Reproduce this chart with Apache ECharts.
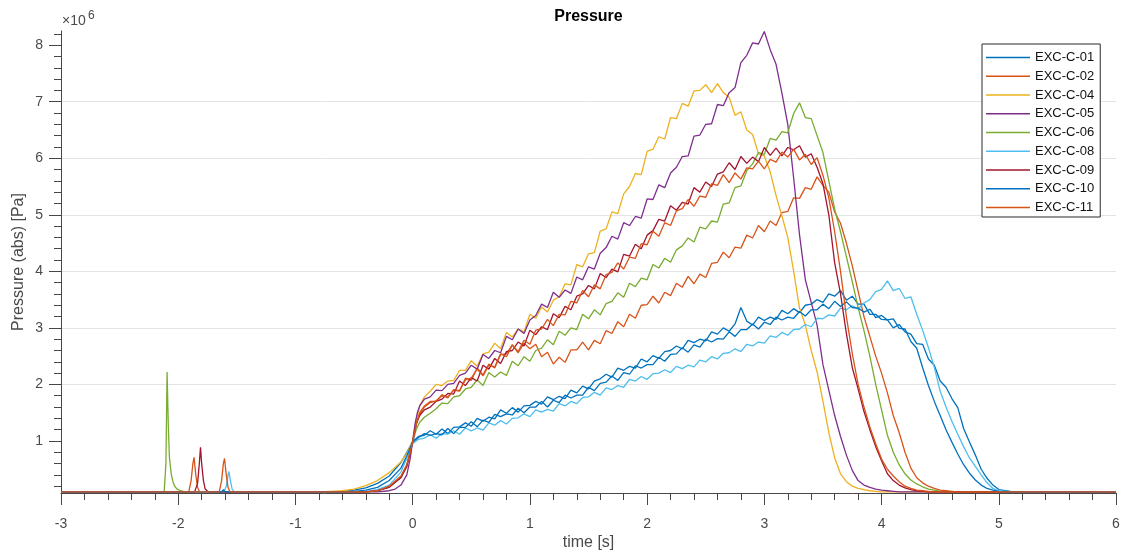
<!DOCTYPE html>
<html>
<head>
<meta charset="utf-8">
<script src="https://cdn.jsdelivr.net/npm/echarts@6/dist/echarts.min.js"></script>
<style>
  html, body { margin: 0; padding: 0; background: #ffffff; }
  #chart { width: 1124px; height: 555px; }
</style>
</head>
<body>
<div id="chart"></div>
<script>
// Pressure traces, values in units of 1e6 Pa (axis shows "x10^6")
const seriesNames = ['EXC-C-01', 'EXC-C-02', 'EXC-C-04', 'EXC-C-05', 'EXC-C-06',
                     'EXC-C-08', 'EXC-C-09', 'EXC-C-10', 'EXC-C-11'];

const xTicks = [-3, -2, -1, 0, 1, 2, 3, 4, 5, 6];
const yMajorTicks = [1, 2, 3, 4, 5, 6, 7, 8];
const yMinorTicks = [0.2, 0.4, 0.6, 0.8, 1.2, 1.4, 1.6, 1.8, 2.2, 2.4, 2.6, 2.8,
                     3.2, 3.4, 3.6, 3.8, 4.2, 4.4, 4.6, 4.8, 5.2, 5.4, 5.6, 5.8,
                     6.2, 6.4, 6.6, 6.8, 7.2, 7.4, 7.6, 7.8, 8.2];

// shared sample times [s] for the main pressure phase
const tGrid = [
  0.10, 0.15, 0.20, 0.25, 0.30, 0.35, 0.40, 0.45, 0.50, 0.55,
  0.60, 0.65, 0.70, 0.75, 0.80, 0.85, 0.90, 0.95, 1.00, 1.05,
  1.10, 1.15, 1.20, 1.25, 1.30, 1.35, 1.40, 1.45, 1.50, 1.55,
  1.60, 1.65, 1.70, 1.75, 1.80, 1.85, 1.90, 1.95, 2.00, 2.05,
  2.10, 2.15, 2.20, 2.25, 2.30, 2.35, 2.40, 2.45, 2.50, 2.55,
  2.60, 2.65, 2.70, 2.75, 2.80, 2.85, 2.90, 2.95, 3.00, 3.05,
  3.10, 3.15, 3.20, 3.25, 3.30, 3.35, 3.40, 3.45, 3.50, 3.55,
  3.60, 3.65, 3.70, 3.75, 3.80, 3.85, 3.90, 3.95, 4.00, 4.05,
  4.10, 4.15, 4.20, 4.25, 4.30, 4.35, 4.40, 4.45, 4.50, 4.55,
  4.60, 4.65, 4.70, 4.75, 4.80, 4.85, 4.90, 4.95, 5.00
];

// ---- EXC-C-01 ----
const p01Lead = [[-3, 0.10], [-0.7, 0.10], [-0.6, 0.11], [-0.5, 0.13], [-0.4, 0.17], [-0.3, 0.25],
                 [-0.2, 0.38], [-0.1, 0.62], [-0.05, 0.80], [0, 0.99], [0.05, 1.08]];
const p01Main = [
  1.10, 1.18, 1.12, 1.21, 1.13, 1.24, 1.25, 1.32, 1.26, 1.40,
  1.35, 1.42, 1.39, 1.55, 1.49, 1.59, 1.51, 1.62, 1.63, 1.70,
  1.65, 1.78, 1.73, 1.79, 1.75, 1.90, 1.85, 1.97, 1.92, 2.06,
  2.10, 2.18, 2.13, 2.29, 2.25, 2.32, 2.29, 2.45, 2.40, 2.51,
  2.46, 2.58, 2.60, 2.68, 2.63, 2.78, 2.74, 2.80, 2.77, 2.93,
  2.89, 3.00, 2.94, 3.07, 3.36, 3.12, 3.05, 3.19, 3.13, 3.19,
  3.15, 3.31, 3.25, 3.34, 3.27, 3.40, 3.42, 3.50, 3.45, 3.60,
  3.56, 3.66, 3.49, 3.56, 3.42, 3.42, 3.24, 3.24, 3.15, 3.14,
  3.00, 3.06, 2.93, 2.89, 2.72, 2.71, 2.45, 2.34, 2.06, 1.95,
  1.75, 1.59, 1.22, 0.98, 0.75, 0.50, 0.34, 0.22, 0.14
];
const p01Tail = [[5.1, 0.11], [5.2, 0.10], [6, 0.10]];

// ---- EXC-C-02 ----
const p02Lead = [[-3, 0.10], [-1.91, 0.10], [-1.89, 0.30], [-1.875, 0.60], [-1.865, 0.71], [-1.85, 0.40],
                 [-1.835, 0.18], [-1.82, 0.11], [-1.80, 0.10], [-0.4, 0.10], [-0.3, 0.12], [-0.2, 0.19],
                 [-0.1, 0.36], [-0.05, 0.56], [0, 0.99], [0.03, 1.28], [0.06, 1.48]];
const p02Main = [
  1.60, 1.68, 1.71, 1.80, 1.78, 1.90, 1.88, 2.11, 2.07, 2.29,
  2.17, 2.36, 2.29, 2.53, 2.54, 2.70, 2.56, 2.73, 2.63, 2.71,
  2.49, 2.57, 2.36, 2.48, 2.39, 2.61, 2.61, 2.75, 2.61, 2.78,
  2.72, 2.95, 2.90, 3.11, 3.02, 3.24, 3.17, 3.40, 3.41, 3.56,
  3.44, 3.63, 3.57, 3.79, 3.72, 3.91, 3.78, 3.95, 3.89, 4.14,
  4.16, 4.34, 4.24, 4.43, 4.41, 4.64, 4.59, 4.81, 4.70, 4.89,
  4.81, 5.04, 5.06, 5.30, 5.29, 5.48, 5.45, 5.67, 5.52, 5.40,
  5.05, 4.85, 4.50, 4.10, 3.65, 3.20, 2.85, 2.50, 2.20, 1.85,
  1.45, 1.15, 0.80, 0.52, 0.35, 0.26, 0.20, 0.16, 0.13, 0.12,
  0.11, 0.10, 0.10, 0.10, 0.10, 0.10, 0.10, 0.10, 0.10
];
const p02Tail = [[6, 0.10]];

// ---- EXC-C-04 ----
const p04Lead = [[-3, 0.10], [-0.8, 0.10], [-0.7, 0.11], [-0.6, 0.12], [-0.5, 0.15], [-0.4, 0.21],
                 [-0.3, 0.30], [-0.2, 0.44], [-0.1, 0.63], [-0.05, 0.78], [0, 1.00], [0.03, 1.35], [0.06, 1.62]];
const p04Main = [
  1.78, 1.88, 2.00, 1.98, 2.06, 2.07, 2.25, 2.25, 2.42, 2.32,
  2.54, 2.57, 2.73, 2.63, 2.92, 2.84, 2.98, 2.93, 3.24, 3.17,
  3.37, 3.28, 3.49, 3.55, 3.78, 3.76, 4.12, 4.08, 4.31, 4.33,
  4.71, 4.75, 5.05, 5.02, 5.37, 5.50, 5.73, 5.71, 6.12, 6.16,
  6.38, 6.34, 6.72, 6.70, 6.97, 6.92, 7.19, 7.20, 7.30, 7.16,
  7.32, 7.16, 7.08, 6.76, 6.82, 6.50, 6.42, 6.08, 6.04, 5.76,
  5.34, 4.98, 4.60, 4.00, 3.35, 3.05, 2.60, 2.22, 1.70, 1.15,
  0.70, 0.42, 0.28, 0.20, 0.16, 0.14, 0.12, 0.11, 0.10, 0.10,
  0.10, 0.10, 0.10, 0.10, 0.10, 0.10, 0.10, 0.10, 0.10, 0.10,
  0.10, 0.10, 0.10, 0.10, 0.10, 0.10, 0.10, 0.10, 0.10
];
const p04Tail = [[6, 0.10]];

// ---- EXC-C-05 ----
const p05Lead = [[-3, 0.10], [-0.3, 0.10], [-0.2, 0.12], [-0.15, 0.15], [-0.1, 0.22], [-0.05, 0.40],
                 [-0.02, 0.70], [0, 1.00], [0.02, 1.30], [0.04, 1.50], [0.06, 1.62]];
const p05Main = [
  1.74, 1.78, 1.90, 1.89, 2.00, 2.02, 2.16, 2.20, 2.34, 2.27,
  2.53, 2.46, 2.60, 2.56, 2.85, 2.79, 2.98, 2.90, 3.14, 3.22,
  3.42, 3.36, 3.63, 3.54, 3.67, 3.61, 3.90, 3.85, 4.08, 4.04,
  4.32, 4.42, 4.62, 4.57, 4.86, 4.81, 4.97, 4.94, 5.28, 5.27,
  5.53, 5.48, 5.74, 5.84, 6.03, 6.04, 6.39, 6.41, 6.60, 6.61,
  6.95, 6.93, 7.16, 7.25, 7.69, 7.82, 8.04, 8.02, 8.24, 7.92,
  7.66, 7.15, 6.60, 5.65, 4.65, 3.85, 3.45, 3.05, 2.35, 1.90,
  1.45, 1.08, 0.75, 0.48, 0.30, 0.22, 0.18, 0.15, 0.13, 0.12,
  0.11, 0.10, 0.10, 0.10, 0.10, 0.10, 0.10, 0.10, 0.10, 0.10,
  0.10, 0.10, 0.10, 0.10, 0.10, 0.10, 0.10, 0.10, 0.10
];
const p05Tail = [[6, 0.10]];

// ---- EXC-C-06 ----
const p06Lead = [[-3, 0.10], [-2.12, 0.10], [-2.105, 0.60], [-2.095, 2.22], [-2.085, 1.30], [-2.075, 0.70],
                 [-2.06, 0.42], [-2.045, 0.28], [-2.03, 0.20], [-2.01, 0.15], [-1.98, 0.12], [-1.94, 0.10],
                 [-0.4, 0.10], [-0.3, 0.12], [-0.2, 0.19], [-0.1, 0.36], [-0.05, 0.58], [0, 0.98],
                 [0.03, 1.20], [0.06, 1.33]];
const p06Main = [
  1.42, 1.49, 1.57, 1.67, 1.66, 1.78, 1.80, 1.92, 1.95, 2.08,
  1.98, 2.21, 2.13, 2.22, 2.16, 2.41, 2.33, 2.49, 2.41, 2.60,
  2.64, 2.79, 2.70, 2.94, 2.87, 3.00, 2.97, 3.24, 3.16, 3.32,
  3.23, 3.43, 3.47, 3.62, 3.54, 3.79, 3.73, 3.88, 3.85, 4.12,
  4.06, 4.23, 4.16, 4.38, 4.45, 4.59, 4.52, 4.78, 4.75, 4.89,
  4.87, 5.19, 5.21, 5.48, 5.51, 5.78, 5.90, 6.10, 6.07, 6.35,
  6.32, 6.47, 6.45, 6.79, 6.98, 6.72, 6.70, 6.40, 6.10, 5.60,
  5.10, 4.70, 4.26, 3.82, 3.36, 2.95, 2.50, 2.00, 1.55, 1.10,
  0.80, 0.58, 0.42, 0.31, 0.24, 0.19, 0.15, 0.13, 0.11, 0.10,
  0.10, 0.10, 0.10, 0.10, 0.10, 0.10, 0.10, 0.10, 0.10
];
const p06Tail = [[6, 0.10]];

// ---- EXC-C-08 ----
const p08Lead = [[-3, 0.10], [-1.61, 0.10], [-1.59, 0.20], [-1.575, 0.40], [-1.568, 0.46], [-1.555, 0.30],
                 [-1.54, 0.15], [-1.525, 0.11], [-1.50, 0.10], [-0.5, 0.10], [-0.4, 0.11], [-0.3, 0.14],
                 [-0.2, 0.22], [-0.1, 0.45], [-0.05, 0.70], [0, 0.95], [0.05, 1.03]];
const p08Main = [
  1.05, 1.11, 1.05, 1.13, 1.12, 1.18, 1.12, 1.23, 1.18, 1.23,
  1.19, 1.32, 1.28, 1.36, 1.30, 1.40, 1.41, 1.48, 1.43, 1.55,
  1.51, 1.56, 1.53, 1.66, 1.62, 1.70, 1.66, 1.77, 1.78, 1.86,
  1.81, 1.94, 1.91, 1.98, 1.95, 2.09, 2.06, 2.14, 2.09, 2.19,
  2.20, 2.26, 2.21, 2.32, 2.28, 2.34, 2.31, 2.43, 2.40, 2.49,
  2.45, 2.55, 2.56, 2.63, 2.58, 2.71, 2.68, 2.75, 2.73, 2.86,
  2.83, 2.92, 2.87, 2.97, 2.98, 3.06, 3.02, 3.17, 3.16, 3.23,
  3.21, 3.35, 3.32, 3.39, 3.33, 3.44, 3.50, 3.64, 3.68, 3.83,
  3.66, 3.70, 3.52, 3.55, 3.24, 2.96, 2.65, 2.30, 1.88, 1.60,
  1.35, 1.12, 0.90, 0.70, 0.55, 0.40, 0.26, 0.16, 0.12
];
const p08Tail = [[5.1, 0.10], [6, 0.10]];

// ---- EXC-C-09 ----
const p09Lead = [[-3, 0.10], [-1.86, 0.10], [-1.835, 0.25], [-1.82, 0.60], [-1.81, 0.89], [-1.80, 0.60],
                 [-1.785, 0.30], [-1.77, 0.15], [-1.75, 0.11], [-1.70, 0.10], [-0.4, 0.10], [-0.3, 0.12],
                 [-0.2, 0.18], [-0.1, 0.35], [-0.05, 0.55], [0, 0.98], [0.03, 1.30], [0.06, 1.45]];
const p09Main = [
  1.55, 1.60, 1.70, 1.74, 1.84, 1.83, 2.06, 1.98, 2.12, 2.06,
  2.34, 2.27, 2.46, 2.37, 2.58, 2.60, 2.75, 2.68, 2.96, 2.88,
  3.02, 2.97, 3.25, 3.18, 3.38, 3.32, 3.56, 3.60, 3.75, 3.69,
  3.96, 3.89, 4.04, 3.99, 4.30, 4.27, 4.48, 4.40, 4.64, 4.72,
  4.92, 4.89, 5.16, 5.08, 5.22, 5.19, 5.48, 5.40, 5.58, 5.50,
  5.72, 5.76, 5.92, 5.80, 6.03, 5.91, 6.02, 5.94, 6.19, 6.05,
  6.18, 6.04, 6.19, 6.15, 6.22, 6.02, 6.08, 5.84, 5.55, 5.00,
  4.15, 3.60, 2.90, 2.30, 1.92, 1.52, 1.20, 0.90, 0.65, 0.42,
  0.30, 0.22, 0.17, 0.14, 0.12, 0.11, 0.10, 0.10, 0.10, 0.10,
  0.10, 0.10, 0.10, 0.10, 0.10, 0.10, 0.10, 0.10, 0.10
];
const p09Tail = [[6, 0.10]];

// ---- EXC-C-10 ----
const p10Lead = [[-3, 0.10], [-1.63, 0.10], [-1.615, 0.14], [-1.60, 0.10], [-0.6, 0.10], [-0.5, 0.11],
                 [-0.4, 0.13], [-0.3, 0.18], [-0.2, 0.30], [-0.1, 0.52], [-0.05, 0.74], [0, 0.98], [0.05, 1.06]];
const p10Main = [
  1.13, 1.10, 1.13, 1.11, 1.22, 1.13, 1.24, 1.24, 1.34, 1.25,
  1.37, 1.33, 1.47, 1.43, 1.48, 1.46, 1.58, 1.50, 1.60, 1.60,
  1.70, 1.60, 1.72, 1.68, 1.81, 1.76, 1.81, 1.81, 1.95, 1.89,
  2.02, 2.04, 2.15, 2.07, 2.21, 2.18, 2.33, 2.29, 2.35, 2.35,
  2.48, 2.41, 2.53, 2.54, 2.65, 2.57, 2.70, 2.66, 2.80, 2.75,
  2.81, 2.80, 2.93, 2.85, 2.97, 2.97, 3.07, 2.98, 3.10, 3.06,
  3.19, 3.14, 3.19, 3.17, 3.29, 3.21, 3.32, 3.32, 3.42, 3.34,
  3.47, 3.38, 3.46, 3.36, 3.35, 3.28, 3.33, 3.18, 3.22, 3.14,
  3.16, 2.99, 2.98, 2.76, 2.64, 2.30, 1.98, 1.70, 1.45, 1.20,
  0.98, 0.77, 0.58, 0.43, 0.31, 0.22, 0.16, 0.13, 0.11
];
const p10Tail = [[5.1, 0.10], [6, 0.10]];

// ---- EXC-C-11 ----
const p11Lead = [[-3, 0.10], [-1.65, 0.10], [-1.63, 0.30], [-1.615, 0.60], [-1.605, 0.69], [-1.59, 0.40],
                 [-1.575, 0.18], [-1.56, 0.11], [-1.54, 0.10], [-0.4, 0.10], [-0.3, 0.12], [-0.2, 0.20],
                 [-0.1, 0.38], [-0.05, 0.58], [0, 0.99], [0.03, 1.30], [0.06, 1.50]];
const p11Main = [
  1.62, 1.70, 1.70, 1.82, 1.76, 1.91, 1.89, 2.08, 2.11, 2.27,
  2.15, 2.34, 2.31, 2.54, 2.49, 2.70, 2.58, 2.78, 2.71, 2.96,
  2.98, 3.15, 3.04, 3.24, 3.23, 3.47, 3.44, 3.66, 3.55, 3.76,
  3.69, 3.94, 3.98, 4.15, 4.04, 4.25, 4.23, 4.49, 4.47, 4.71,
  4.62, 4.86, 4.81, 5.07, 5.11, 5.27, 5.15, 5.33, 5.31, 5.55,
  5.52, 5.71, 5.57, 5.74, 5.63, 5.83, 5.81, 5.95, 5.81, 5.98,
  5.93, 6.11, 6.02, 6.16, 5.97, 6.07, 5.89, 6.01, 5.70, 5.30,
  4.70, 4.00, 3.20, 2.55, 2.00, 1.60, 1.25, 0.95, 0.68, 0.50,
  0.38, 0.28, 0.20, 0.16, 0.13, 0.12, 0.11, 0.10, 0.10, 0.10,
  0.10, 0.10, 0.10, 0.10, 0.10, 0.10, 0.10, 0.10, 0.10
];
const p11Tail = [[6, 0.10]];

// MATLAB default line colours, in plotting order
const seriesColors = ['#0072BD', '#D95319', '#EDB120', '#7E2F8E', '#77AC30',
                      '#4DBEEE', '#A2142F', '#0072BD', '#D95319'];

const traceParts = [
  [p01Lead, p01Main, p01Tail], [p02Lead, p02Main, p02Tail], [p04Lead, p04Main, p04Tail],
  [p05Lead, p05Main, p05Tail], [p06Lead, p06Main, p06Tail], [p08Lead, p08Main, p08Tail],
  [p09Lead, p09Main, p09Tail], [p10Lead, p10Main, p10Tail], [p11Lead, p11Main, p11Tail]
];

function buildTrace(lead, main, tail) {
  return lead.concat(tGrid.map((t, i) => [t, main[i]]), tail);
}

const FONT = '"Liberation Sans", Arial, Helvetica, sans-serif';
const axisColor = '#474747';
const textColor = '#4a4a4a';
const gridColor = '#e3e3e3';

const chart = echarts.init(document.getElementById('chart'), null, { renderer: 'canvas' });

const option = {
  animation: false,
  backgroundColor: '#ffffff',
  textStyle: { fontFamily: FONT },
  grid: { left: 61, right: 8, top: 31, bottom: 62, containLabel: false, outerBoundsMode: 'none' },
  xAxis: {
    type: 'value', min: xTicks[0], max: xTicks[xTicks.length - 1], interval: 1,
    axisLine: { show: true, onZero: false, lineStyle: { color: axisColor, width: 1 } },
    axisTick: { show: true, length: 12, lineStyle: { color: axisColor, width: 1 } },
    minorTick: { show: true, splitNumber: 5, length: 7, lineStyle: { color: axisColor, width: 1 } },
    axisLabel: { color: textColor, fontSize: 14, margin: 24, fontFamily: FONT },
    splitLine: { show: false },
    name: 'time [s]', nameLocation: 'middle', nameGap: 42, nameMoveOverlap: false,
    nameTextStyle: { fontSize: 16, color: textColor, fontFamily: FONT }
  },
  yAxis: [
    {
      type: 'value', min: 0.08, max: 8.25, splitNumber: 8, position: 'left',
      axisLine: { show: true, onZero: false, lineStyle: { color: axisColor, width: 1 } },
      axisTick: { show: true, length: 12, customValues: yMajorTicks, lineStyle: { color: axisColor, width: 1 } },
      axisLabel: { customValues: yMajorTicks, color: textColor, fontSize: 14, margin: 18, fontFamily: FONT },
      splitLine: { show: true, showMinLine: false, showMaxLine: false, lineStyle: { color: gridColor, width: 1 } },
      name: 'Pressure (abs) [Pa]', nameLocation: 'middle', nameGap: 34, nameMoveOverlap: false,
      nameTextStyle: { fontSize: 16, color: textColor, fontFamily: FONT }
    },
    {
      type: 'value', min: 0.08, max: 8.25, position: 'left', offset: 0,
      axisLine: { show: false, onZero: false },
      axisTick: { show: true, length: 7, customValues: yMinorTicks, lineStyle: { color: axisColor, width: 1 } },
      axisLabel: { show: false },
      splitLine: { show: false }
    }
  ],
  legend: {
    data: seriesNames,
    orient: 'vertical', left: 982, top: 44,
    padding: [6.5, 6, 2.5, 4], itemGap: 4.75, itemWidth: 44, itemHeight: 1.5,
    icon: 'rect',
    backgroundColor: '#ffffff', borderColor: '#2b2b2b', borderWidth: 1, borderRadius: 0,
    selectedMode: false,
    textStyle: { fontSize: 13, color: '#111111', fontFamily: FONT, lineHeight: 14 }
  },
  graphic: [
    { type: 'text', x: 588.5, y: 17, silent: true,
      style: { text: 'Pressure', font: 'bold 16px ' + FONT, fill: '#000000', align: 'center', verticalAlign: 'middle' } },
    { type: 'text', x: 62, y: 21, silent: true,
      style: { text: '\u00d710', font: '14px ' + FONT, fill: textColor, align: 'left', verticalAlign: 'middle' } },
    { type: 'text', x: 88, y: 15.5, silent: true,
      style: { text: '6', font: '12px ' + FONT, fill: textColor, align: 'left', verticalAlign: 'middle' } }
  ],
  series: seriesNames.map((name, k) => ({
    type: 'line',
    name: name,
    data: buildTrace(traceParts[k][0], traceParts[k][1], traceParts[k][2]),
    yAxisIndex: 0,
    symbol: 'none',
    showSymbol: false,
    clip: true,
    lineStyle: { width: 1.3, color: seriesColors[k] },
    itemStyle: { color: seriesColors[k] },
    emphasis: { disabled: true }
  }))
};

chart.setOption(option);
</script>
</body>
</html>
